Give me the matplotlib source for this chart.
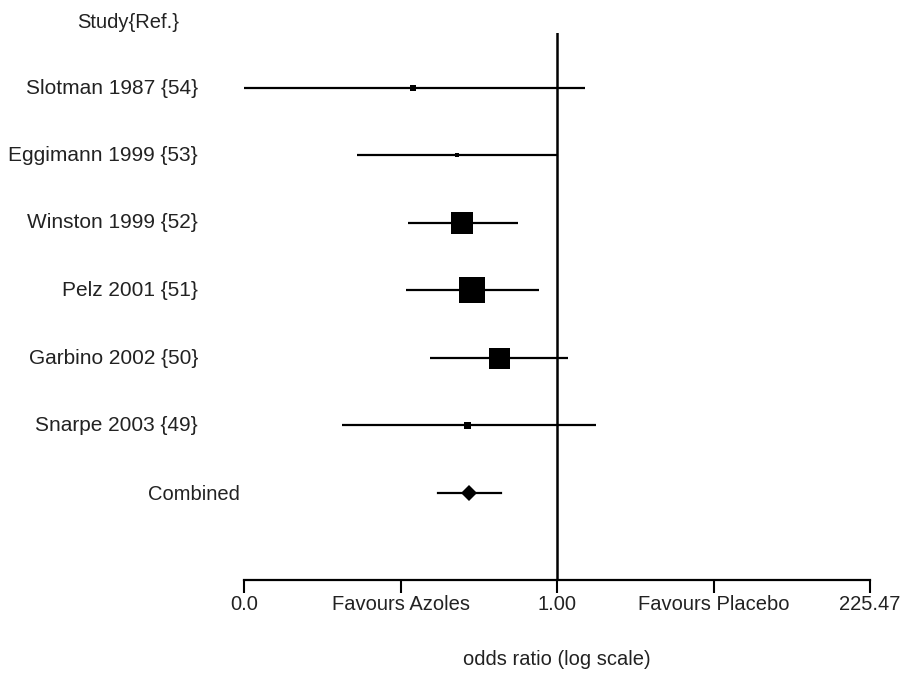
import numpy as np
import matplotlib.pyplot as plt

plt.rcParams['font.family'] = ['Liberation Sans', 'DejaVu Sans']

studies = ['Slotman 1987 {54}', 'Eggimann 1999 {53}', 'Winston 1999 {52}',
           'Pelz 2001 {51}', 'Garbino 2002 {50}', 'Snarpe 2003 {49}']
odds = [0.083, 0.177, 0.193, 0.230, 0.366, 0.211]
lower = [0.00444, 0.0313, 0.0758, 0.0732, 0.111, 0.0242]
upper = [1.62, 1.00, 0.509, 0.732, 1.21, 1.96]
box_px = [6, 5, 23, 26, 21, 7]

comb_or = 0.218
comb_lo = 0.127
comb_hi = 0.379

xmax = 225.47
tick_vals = [1 / xmax, 1 / np.sqrt(xmax), 1.0, np.sqrt(xmax), xmax]
tick_labels = ['0.0', 'Favours Azoles', '1.00', 'Favours Placebo', '225.47']

fs = 14.5

fig = plt.figure(figsize=(9.04, 6.73), dpi=100)
ax = fig.add_axes([244 / 904, 1 - 580 / 673, 626 / 904, 547 / 673])
ax.set_xscale('log')

for i in range(len(studies)):
    ax.plot([lower[i], upper[i]], [i, i], color='black', lw=1.6, solid_capstyle='butt')
    ax.plot(odds[i], i, marker='s', color='black', markersize=box_px[i] * 0.72, mew=0)

ci = len(studies)
ax.plot([comb_lo, comb_hi], [ci, ci], color='black', lw=1.6)
ax.plot(comb_or, ci, marker='D', color='black', markersize=8, mew=0)

ax.axvline(1.0, color='black', lw=1.8)

ax.set_xlim(1 / xmax, xmax)
ax.set_ylim(ci + 1.29, -0.81)
ax.set_yticks([])
ax.minorticks_off()
ax.set_xticks(tick_vals)
ax.set_xticklabels(tick_labels, fontsize=fs, color='#222222')
ax.tick_params(axis='x', length=9, width=1.5, pad=2, color='black')
for s in ['top', 'right', 'left']:
    ax.spines[s].set_visible(False)
ax.spines['bottom'].set_linewidth(1.6)
ax.set_xlabel('odds ratio (log scale)', fontsize=fs, color='#222222', labelpad=26)

# study labels on the left
for i, name in enumerate(studies):
    y = 88 + i * 67.5
    fig.text(198 / 904, 1 - y / 673, name, ha='right', va='center', fontsize=15, color='#222222')
fig.text(148 / 904, 1 - 494 / 673, 'Combined', ha='left', va='center', fontsize=fs, color='#222222')
fig.text(128 / 904, 1 - 22 / 673, 'Study{Ref.}', ha='center', va='center', fontsize=fs, color='#222222')

fig.savefig('out.png', dpi=100)
